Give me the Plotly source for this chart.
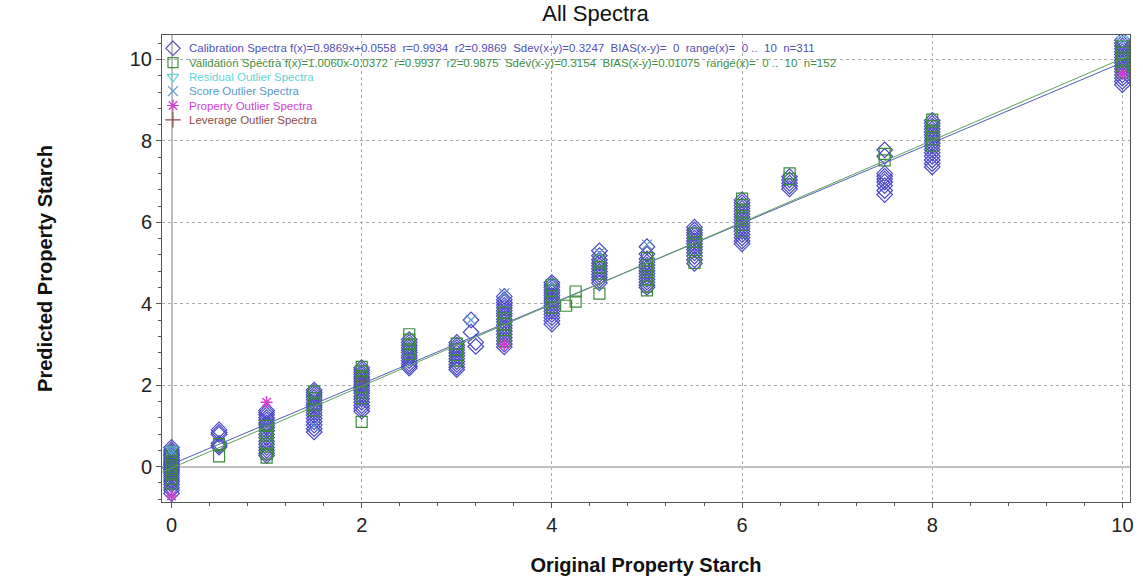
import plotly.graph_objects as go

# ---------------- data ----------------
cal_x_groups = [0, 0.5, 1, 1.5, 2, 2.5, 3, 3.15, 3.2, 3.5, 4, 4.5, 5, 5.5, 6, 6.5, 7.5, 8, 10]
cal_y_groups = [
    [0.47, 0.41, 0.36, 0.31, 0.27, 0.22, 0.18, 0.13, 0.09, 0.06, 0.02, -0.03, -0.07, -0.11,
     -0.16, -0.21, -0.27, -0.33, -0.38, -0.44, -0.52, -0.58, -0.66],
    [0.9, 0.84, 0.79, 0.57, 0.52, 0.48],
    [1.38, 1.33, 1.27, 1.2, 1.14, 1.07, 1.02, 0.96, 0.88, 0.79, 0.71, 0.62, 0.55, 0.47, 0.4, 0.33, 0.27],
    [1.88, 1.82, 1.76, 1.7, 1.64, 1.57, 1.51, 1.46, 1.4, 1.33, 1.26, 1.18, 1.1, 1.02, 0.93, 0.85],
    [2.43, 2.37, 2.31, 2.26, 2.2, 2.15, 2.09, 2.03, 1.98, 1.92, 1.86, 1.8, 1.73, 1.66, 1.58, 1.5, 1.43, 1.36],
    [3.12, 3.05, 2.98, 2.92, 2.86, 2.8, 2.73, 2.67, 2.6, 2.53, 2.47, 2.42],
    [3.05, 2.98, 2.92, 2.86, 2.79, 2.72, 2.65, 2.58, 2.51, 2.44, 2.38],
    [3.6, 3.3],
    [3.05, 2.95],
    [4.18, 4.1, 4.03, 3.96, 3.9, 3.83, 3.76, 3.7, 3.62, 3.55, 3.47, 3.4, 3.33, 3.25, 3.17, 3.09, 3.01, 2.94],
    [4.52, 4.46, 4.4, 4.33, 4.27, 4.2, 4.14, 4.08, 4.02, 3.95, 3.88, 3.81, 3.74, 3.66, 3.58, 3.5],
    [5.3, 5.18, 5.08, 5.0, 4.93, 4.86, 4.79, 4.72, 4.65, 4.58, 4.51],
    [5.4, 5.22, 5.1, 5.02, 4.95, 4.88, 4.81, 4.74, 4.67, 4.6, 4.53, 4.46, 4.4],
    [5.88, 5.81, 5.74, 5.68, 5.61, 5.54, 5.47, 5.4, 5.33, 5.25, 5.17, 5.08, 4.99],
    [6.55, 6.48, 6.41, 6.34, 6.27, 6.2, 6.13, 6.06, 5.99, 5.92, 5.85, 5.78, 5.7, 5.62, 5.54, 5.47],
    [7.12, 7.04, 6.96, 6.89, 6.82],
    [7.78, 7.62, 7.2, 7.13, 7.06, 6.99, 6.9, 6.78, 6.68],
    [8.5, 8.43, 8.36, 8.29, 8.22, 8.15, 8.08, 8.01, 7.94, 7.87, 7.79, 7.71, 7.62, 7.53, 7.44, 7.36],
    [10.47, 10.4, 10.33, 10.26, 10.19, 10.12, 10.05, 9.98, 9.91, 9.84, 9.77, 9.7, 9.62, 9.54, 9.46, 9.38],
]

val_x_groups = [0, 0.5, 1, 1.5, 2, 2.5, 3, 3.5, 4, 4.15, 4.25, 4.5, 5, 5.5, 6, 6.5, 7.5, 8, 10]
val_y_groups = [
    [0.36, 0.25, 0.14, 0.03, -0.08, -0.19, -0.3, -0.42],
    [0.55, 0.25],
    [1.0, 0.88, 0.76, 0.55, 0.32, 0.22],
    [1.84, 1.68, 1.52, 1.38],
    [2.45, 2.34, 2.22, 2.1, 1.96, 1.82, 1.68, 1.1],
    [3.25, 3.12, 3.0, 2.88, 2.76],
    [3.02, 2.88, 2.74, 2.6],
    [3.78, 3.64, 3.5, 3.36, 3.22, 3.08],
    [4.46, 4.32, 4.18, 4.04, 3.9],
    [3.95],
    [4.05, 4.3],
    [5.06, 4.9, 4.74, 4.25],
    [5.12, 4.95, 4.78, 4.6, 4.42, 4.33],
    [5.72, 5.52, 5.32, 5.0],
    [6.58, 6.42, 6.26, 6.1, 5.94, 5.78],
    [7.2, 7.06],
    [7.68, 7.52],
    [8.52, 8.36, 8.2, 8.04, 7.88],
    [10.32, 10.16, 10.0, 9.84, 9.68],
]

resid_x = [0, 10]
resid_y = [0.42, 10.5]
score_x = [0, 1.5, 3.15, 3.5, 4, 4.5, 5]
score_y = [0.4, 1.0, 3.6, 4.25, 4.5, 5.25, 5.45]
prop_x = [0, 1, 3.5, 10]
prop_y = [-0.72, 1.58, 3.0, 9.65]
lev_x = [2]
lev_y = [2.1]

cal_fit = (0.9869, 0.0558)
val_fit = (1.0060, -0.0372)
fit_span = [-0.1, 10.05]

legend_labels = [
    "Calibration Spectra f(x)=0.9869x+0.0558\u00a0 r=0.9934\u00a0 r2=0.9869\u00a0 "
    "Sdev(x-y)=0.3247\u00a0 BIAS(x-y)=\u00a0 0\u00a0 range(x)=\u00a0 0 ..\u00a0 10\u00a0 n=311",
    "Validation Spectra f(x)=1.0060x-0.0372\u00a0 r=0.9937\u00a0 r2=0.9875\u00a0 "
    "Sdev(x-y)=0.3154\u00a0 BIAS(x-y)=0.01075\u00a0 range(x)=\u00a0 0 ..\u00a0 10\u00a0 n=152",
    "Residual Outlier Spectra",
    "Score Outlier Spectra",
    "Property Outlier Spectra",
    "Leverage Outlier Spectra",
]

# ---------------- build ----------------
def flatten(xg, yg):
    xs, ys = [], []
    for x, ylist in zip(xg, yg):
        for y in ylist:
            xs.append(x)
            ys.append(y)
    return xs, ys

cal_x, cal_y = flatten(cal_x_groups, cal_y_groups)
val_x, val_y = flatten(val_x_groups, val_y_groups)

C_CAL = "#4a46c8"
C_VAL = "#3a8a3a"
C_RES = "#5fd6d6"
C_SCO = "#5b98cc"
C_PRO = "#d23ed2"
C_LEV = "#8a4a4a"
legend_colors = ["#5450b8", "#3f8f3f", C_RES, C_SCO, C_PRO, C_LEV]
legend_symbols = ["diamond-open", "square-open", "triangle-down-open", "x-thin-open",
                  "asterisk-open", "cross-thin-open"]
legend_sym_sizes = [11, 10, 10, 10, 10, 11]

fig = go.Figure()
fig.add_trace(go.Scatter(x=cal_x, y=cal_y, mode="markers", name="Calibration Spectra",
                         marker=dict(symbol="diamond-open", size=12, color=C_CAL, line=dict(width=1.2))))
fig.add_trace(go.Scatter(x=val_x, y=val_y, mode="markers", name="Validation Spectra",
                         marker=dict(symbol="square-open", size=11, color=C_VAL, line=dict(width=1.2))))
fig.add_trace(go.Scatter(x=resid_x, y=resid_y, mode="markers", name="Residual Outlier Spectra",
                         marker=dict(symbol="triangle-down-open", size=10, color=C_RES, line=dict(width=1))))
fig.add_trace(go.Scatter(x=score_x, y=score_y, mode="markers", name="Score Outlier Spectra",
                         marker=dict(symbol="x-thin-open", size=10, color=C_SCO, line=dict(width=1.2, color=C_SCO))))
fig.add_trace(go.Scatter(x=prop_x, y=prop_y, mode="markers", name="Property Outlier Spectra",
                         marker=dict(symbol="asterisk-open", size=10, color=C_PRO, line=dict(width=1.5, color=C_PRO))))
fig.add_trace(go.Scatter(x=lev_x, y=lev_y, mode="markers", name="Leverage Outlier Spectra",
                         marker=dict(symbol="cross-thin-open", size=10, color=C_LEV, line=dict(width=1, color=C_LEV))))

for (m, b), col in [(cal_fit, "#4f5fb5"), (val_fit, "#5fa05f")]:
    fig.add_trace(go.Scatter(x=fit_span, y=[m * fit_span[0] + b, m * fit_span[1] + b],
                             mode="lines", line=dict(color=col, width=1), hoverinfo="skip"))

# layout geometry (pixels)
L, R, T, B = 162, 10, 35, 81
W, H = 1143, 583
pw, ph = W - L - R, H - T - B
LEG_SYM_X, LEG_TXT_X, LEG_Y0, LEG_DY = 173, 188, 48.3, 14.3

# compact legend (like the original software): symbols on a hidden pixel-space overlay axis
leg_rows_y = [LEG_Y0 + i * LEG_DY for i in range(len(legend_labels))]
for yy, sym, col, sz in zip(leg_rows_y, legend_symbols, legend_colors, legend_sym_sizes):
    fig.add_trace(go.Scatter(x=[LEG_SYM_X], y=[yy], xaxis="x2", yaxis="y2", mode="markers",
                             marker=dict(symbol=sym, size=sz, color=col, line=dict(width=1.2, color=col)),
                             hoverinfo="skip"))

fig.update_traces(showlegend=False)

def px2paper_x(px):
    return (px - L) / pw
def px2paper_y(py):
    return (H - B - py) / ph

annotations = []
for yy, txt, col in zip(leg_rows_y, legend_labels, legend_colors):
    annotations.append(dict(x=px2paper_x(LEG_TXT_X), y=px2paper_y(yy), xref="paper", yref="paper",
                            text=txt, showarrow=False, xanchor="left", yanchor="middle", borderpad=0,
                            font=dict(family="Liberation Sans, Arial", size=11.5, color=col)))

axis_common = dict(
    showline=True, linecolor="#555555", linewidth=1, mirror=True,
    ticks="outside", ticklen=5, tickcolor="#555555",
    tickfont=dict(family="Liberation Sans, Arial", size=20, color="#222222"),
    showgrid=True, gridcolor="#aaaaaa", griddash="dot", gridwidth=1,
    zeroline=True, zerolinecolor="#c0c0c0", zerolinewidth=1.5,
    minor=dict(dtick=0.4, ticks="outside", ticklen=3, tickcolor="#555555", showgrid=False),
)

fig.update_layout(
    width=W, height=H,
    margin=dict(l=L, r=R, t=T, b=B),
    paper_bgcolor="white", plot_bgcolor="white",
    title=dict(text="All Spectra", x=0.521, xref="container", xanchor="center",
               y=1 - 13 / 583, yref="container", yanchor="middle",
               font=dict(family="Liberation Sans, Arial", size=22, color="#111111")),
    xaxis=dict(range=[-0.1, 10.08], tick0=0, dtick=2,
               title=dict(text="<b>Original Property Starch</b>", standoff=22,
                          font=dict(family="Liberation Sans, Arial", size=20, color="#111111")),
               **axis_common),
    yaxis=dict(range=[-0.87, 10.6], tick0=0, dtick=2,
               title=dict(text="<b>Predicted Property Starch</b>", standoff=71,
                          font=dict(family="Liberation Sans, Arial", size=20, color="#111111")),
               **axis_common),
    xaxis2=dict(overlaying="x", anchor="y2", range=[L, W - R], visible=False, fixedrange=True),
    yaxis2=dict(overlaying="y", anchor="x2", range=[H - B, T], visible=False, fixedrange=True),
    annotations=annotations,
    showlegend=False,
)

fig.write_html("out.html")
